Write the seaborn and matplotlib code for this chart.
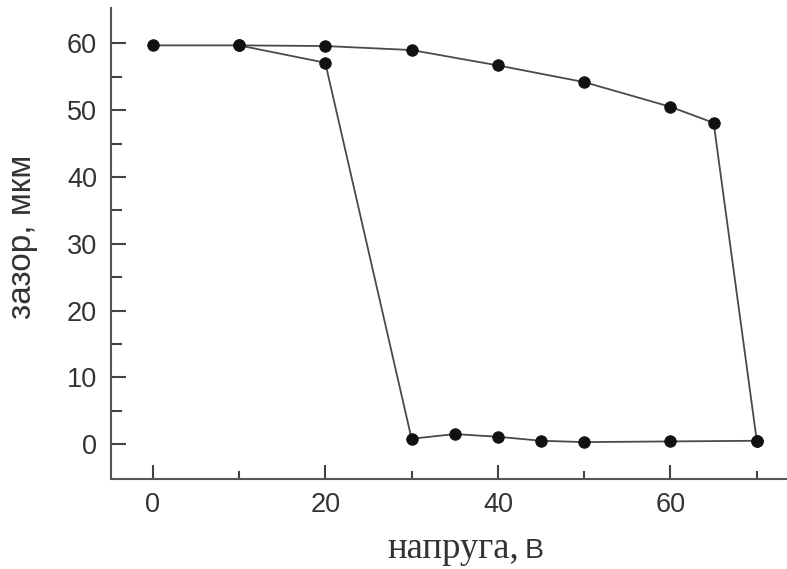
import matplotlib
matplotlib.use("Agg")
import matplotlib.pyplot as plt
import seaborn as sns
import pandas as pd
from matplotlib.ticker import FixedLocator

# Gap vs. voltage: increasing sweep, then decreasing sweep (hysteresis loop)
up_voltage = [0, 10, 20, 30, 40, 50, 60, 65, 70]
up_gap = [59.7, 59.7, 59.6, 59.0, 56.7, 54.2, 50.5, 48.1, 0.5]
down_voltage = [70, 60, 50, 45, 40, 35, 30, 20, 10]
down_gap = [0.5, 0.4, 0.3, 0.5, 1.1, 1.5, 0.8, 57.1, 59.7]

x_ticks = [0, 20, 40, 60]
x_minor = [10, 30, 50, 70]
y_ticks = [0, 10, 20, 30, 40, 50, 60]
y_minor = [5, 15, 25, 35, 45, 55]

df = pd.concat([
    pd.DataFrame({"voltage": up_voltage, "gap": up_gap, "sweep": "up"}),
    pd.DataFrame({"voltage": down_voltage, "gap": down_gap, "sweep": "down"}),
], ignore_index=True)

sns.set_theme(style="white")
plt.rcParams["font.family"] = ["Liberation Sans", "DejaVu Sans"]

fig = plt.figure(figsize=(7.87, 5.69), dpi=100)
ax = fig.add_axes([0.141, 0.158, 0.859, 0.828])

line_color = "#4a4a4a"
for sweep in ["up", "down"]:
    sub = df[df["sweep"] == sweep]
    sns.lineplot(data=sub, x="voltage", y="gap", sort=False, ax=ax,
                 color=line_color, linewidth=1.3, marker="o",
                 markersize=8.2, markerfacecolor="#111111",
                 markeredgecolor="#111111", estimator=None)

ax.set_xlim(-4.83, 73.5)
ax.set_ylim(-5.24, 65.3)

ax.set_xticks(x_ticks)
ax.set_yticks(y_ticks)
ax.xaxis.set_minor_locator(FixedLocator(x_minor))
ax.yaxis.set_minor_locator(FixedLocator(y_minor))

spine_color = "#555555"
for side in ["top", "right"]:
    ax.spines[side].set_visible(False)
for side in ["left", "bottom"]:
    ax.spines[side].set_color(spine_color)
    ax.spines[side].set_linewidth(1.5)

tick_color = "#444444"
ax.tick_params(axis="y", which="major", direction="in", length=11,
               width=1.5, color=tick_color, labelsize=19.5,
               labelcolor="#333333", pad=10, left=True)
ax.tick_params(axis="y", which="minor", direction="in", length=8,
               width=1.5, color=tick_color, left=True)
ax.tick_params(axis="x", which="major", direction="in", length=10,
               width=1.5, color=tick_color, labelsize=19.5,
               labelcolor="#333333", pad=9, bottom=True)
ax.tick_params(axis="x", which="minor", direction="in", length=6,
               width=1.5, color=tick_color, bottom=True)

ax.set_xlabel("")
ax.set_ylabel("зазор, мкм", fontsize=24, color="#333333")
ax.yaxis.set_label_coords(-0.108, 0.514)

# Axis caption below: serif word followed by a sans-serif unit letter
fig.text(0.659, 0.02, "напруга,", ha="right", va="baseline",
         fontsize=26.5, color="#333333", family="Liberation Serif")
fig.text(0.667, 0.02, "В", ha="left", va="baseline",
         fontsize=20.5, color="#333333", family="Liberation Sans")

fig.savefig("out.png", dpi=100)
